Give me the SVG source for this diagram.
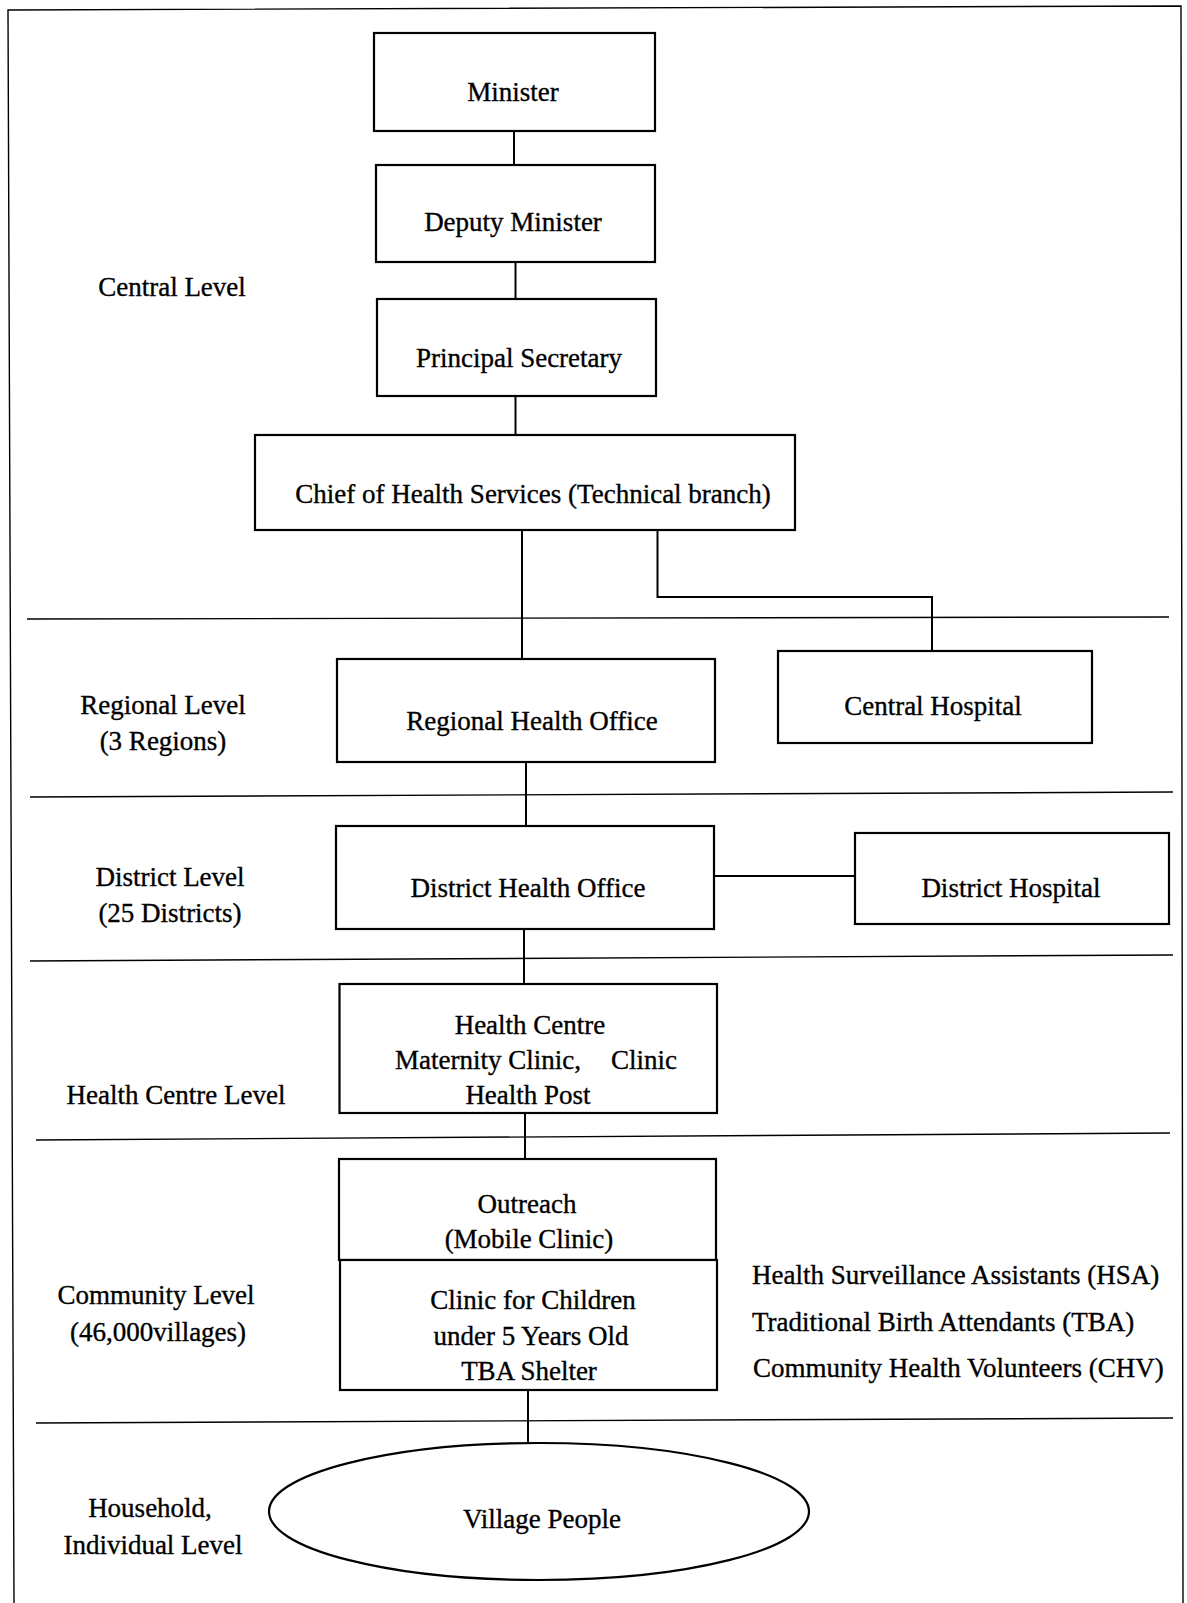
<svg xmlns="http://www.w3.org/2000/svg" width="1187" height="1603" viewBox="0 0 1187 1603">
<style>
text{font-family:"Liberation Serif","Times New Roman",serif;font-size:27px;fill:#000;stroke:#000;stroke-width:0.35}
.c{text-anchor:middle}
.box{fill:#fff;stroke:#000;stroke-width:2.2}
.div{fill:none;stroke:#000;stroke-width:1.4}
.con{fill:none;stroke:#000;stroke-width:2}
</style>
<rect width="1187" height="1603" fill="#fff"/>
<path class="div" d="M14 1603 L8 10 L1181 6 L1183 1603"/>
<g id="dividers">
<line class="div" x1="27" y1="619" x2="1169" y2="617"/>
<line class="div" x1="30" y1="797" x2="1173" y2="792"/>
<line class="div" x1="30" y1="961" x2="1173" y2="955"/>
<line class="div" x1="36" y1="1140" x2="1170" y2="1133"/>
<line class="div" x1="36" y1="1423" x2="1173" y2="1418"/>
</g>
<g id="connectors">
<line class="con" x1="514" y1="131" x2="514" y2="165"/>
<line class="con" x1="515.5" y1="262" x2="515.5" y2="299"/>
<line class="con" x1="515.5" y1="396" x2="515.5" y2="435"/>
<line class="con" x1="522" y1="530" x2="522" y2="659"/>
<path class="con" d="M657.5 530 V597 H932 V651"/>
<line class="con" x1="526" y1="762" x2="526" y2="826"/>
<line class="con" x1="714" y1="876" x2="855" y2="876"/>
<line class="con" x1="524" y1="929" x2="524" y2="984"/>
<line class="con" x1="525" y1="1113" x2="525" y2="1159"/>
<line class="con" x1="528" y1="1390" x2="528" y2="1443"/>
</g>
<g id="levels">
<text class="c" x="172" y="296">Central Level</text>
<text class="c" x="163" y="714">Regional Level</text>
<text class="c" x="163" y="750">(3 Regions)</text>
<text class="c" x="170" y="886">District Level</text>
<text class="c" x="170" y="922">(25 Districts)</text>
<text class="c" x="176" y="1104">Health Centre Level</text>
<text class="c" x="156" y="1304">Community Level</text>
<text class="c" x="158" y="1341">(46,000villages)</text>
<text class="c" x="150" y="1517">Household,</text>
<text class="c" x="153" y="1554">Individual Level</text>
</g>
<g id="minister">
<rect class="box" x="374" y="33" width="281" height="98"/>
<text class="c" x="513" y="101">Minister</text>
</g>
<g id="deputy-minister">
<rect class="box" x="376" y="165" width="279" height="97"/>
<text class="c" x="513" y="231">Deputy Minister</text>
</g>
<g id="principal-secretary">
<rect class="box" x="377" y="299" width="279" height="97"/>
<text class="c" x="519" y="367">Principal Secretary</text>
</g>
<g id="chief-health-services">
<rect class="box" x="255" y="435" width="540" height="95"/>
<text class="c" x="533" y="503">Chief of Health Services (Technical branch)</text>
</g>
<g id="regional-health-office">
<rect class="box" x="337" y="659" width="378" height="103"/>
<text class="c" x="532" y="730">Regional Health Office</text>
</g>
<g id="central-hospital">
<rect class="box" x="778" y="651" width="314" height="92"/>
<text class="c" x="933" y="715">Central Hospital</text>
</g>
<g id="district-health-office">
<rect class="box" x="336" y="826" width="378" height="103"/>
<text class="c" x="528" y="897">District Health Office</text>
</g>
<g id="district-hospital">
<rect class="box" x="855" y="833" width="314" height="91"/>
<text class="c" x="1011" y="897">District Hospital</text>
</g>
<g id="health-centre">
<rect class="box" x="339.5" y="984" width="377.5" height="129"/>
<text class="c" x="530" y="1034">Health Centre</text>
<text x="395" y="1069">Maternity Clinic,<tspan x="611">Clinic</tspan></text>
<text class="c" x="528" y="1104">Health Post</text>
</g>
<g id="outreach">
<rect class="box" x="339" y="1159" width="377" height="101"/>
<text class="c" x="527" y="1213">Outreach</text>
<text class="c" x="529" y="1248">(Mobile Clinic)</text>
</g>
<g id="clinic-children">
<rect class="box" x="340" y="1260" width="377" height="130"/>
<text class="c" x="533" y="1309">Clinic for Children</text>
<text class="c" x="531" y="1345">under 5 Years Old</text>
<text class="c" x="529" y="1380">TBA Shelter</text>
</g>
<g id="community-workers">
<text x="752" y="1284">Health Surveillance Assistants (HSA)</text>
<text x="752" y="1331">Traditional Birth Attendants (TBA)</text>
<text x="753" y="1377">Community Health Volunteers (CHV)</text>
</g>
<g id="village-people">
<ellipse class="box" cx="539" cy="1511.5" rx="270" ry="68.5"/>
<text class="c" x="542" y="1528">Village People</text>
</g>
</svg>
